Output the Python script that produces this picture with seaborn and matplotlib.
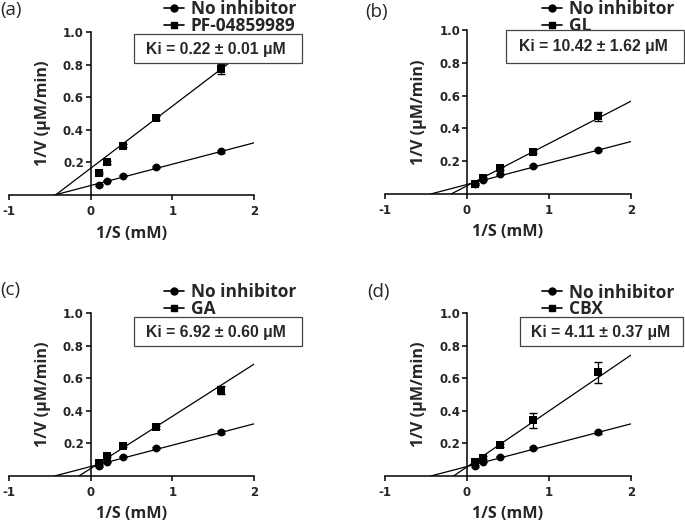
import numpy as np
import matplotlib
matplotlib.use('Agg')
import matplotlib.pyplot as plt
from matplotlib.lines import Line2D
from matplotlib.patches import Rectangle
from matplotlib.font_manager import FontProperties
import seaborn as sns

# =============================================================
# DATA
# =============================================================
inv_s = [0.1, 0.2, 0.4, 0.8, 1.6]          # 1/S (mM)

ctrl = [0.061, 0.088, 0.119, 0.170, 0.268]
ctrl_err = [0.004, 0.004, 0.005, 0.006, 0.008]

pf = [0.133, 0.200, 0.303, 0.470, 0.771]
pf_err = [0.006, 0.008, 0.010, 0.012, 0.030]
gl = [0.061, 0.098, 0.156, 0.258, 0.473]
gl_err = [0.005, 0.008, 0.010, 0.010, 0.030]
ga = [0.081, 0.122, 0.187, 0.299, 0.528]
ga_err = [0.005, 0.008, 0.008, 0.010, 0.022]
cbx = [0.083, 0.112, 0.189, 0.341, 0.635]
cbx_err = [0.006, 0.008, 0.010, 0.045, 0.065]

# fitted lines: (intercept, slope)
ctrl_fit = (0.058, 0.131)
pf_fit = (0.164, 0.381)
gl_fit = (0.050, 0.258)
ga_fit = (0.046, 0.320)
cbx_fit = (0.056, 0.343)

panel_tags = ['(a)', '(b)', '(c)', '(d)']
inhibitors = ['PF-04859989', 'GL', 'GA', 'CBX']
ki_texts = ['Ki = 0.22 \u00b1 0.01 \u03bcM', 'Ki = 10.42 \u00b1 1.62 \u03bcM',
            'Ki = 6.92 \u00b1 0.60 \u03bcM', 'Ki = 4.11 \u00b1 0.37 \u03bcM']
inh_vals = [pf, gl, ga, cbx]
inh_errs = [pf_err, gl_err, ga_err, cbx_err]
inh_fits = [pf_fit, gl_fit, ga_fit, cbx_fit]

# =============================================================
# LAYOUT (pixel positions in the 685x523 figure)
# =============================================================
W, H = 685, 523
ax_px = [(9, 254, 32, 195), (385, 631, 30, 194), (9, 254, 313, 476), (385, 631, 313, 476)]
tag_px = [(0, 10), (365, 12), (0, 290), (367, 292)]
leg_px = [(164, 0), (542, 0.5), (164, 283), (542, 283.5)]
ki_box_px = [(134, 34, 302, 63), (506, 30, 684, 63), (134, 317, 302, 346), (520, 317, 683, 346)]
ki_txt_px = [(216, 49), (593, 47), (216, 332), (601, 332)]
xlab_base = 42.5   # px from x axis down to label baseline

sns.set_theme(style='ticks')
plt.rcParams['font.family'] = ['Open Sans', 'DejaVu Sans']

fig = plt.figure(figsize=(W / 100, H / 100), dpi=100)

tick_fp = FontProperties(family='DejaVu Sans', weight='bold', size=8.5)
lab_font = dict(family='Open Sans', weight='bold', size=11.6)


def fit_line(ax, fit):
    b, m = fit
    xs = np.array([-b / m, 2.0])
    ax.plot(xs, b + m * xs, color='black', lw=0.9, zorder=2)


for i in range(4):
    l, r, t, b = ax_px[i]
    ax = fig.add_axes([l / W, 1 - b / H, (r - l) / W, (b - t) / H])

    # control series
    fit_line(ax, ctrl_fit)
    ax.errorbar(inv_s, ctrl, yerr=ctrl_err, fmt='none', ecolor='black',
                elinewidth=0.9, capsize=3, zorder=3)
    sns.scatterplot(x=inv_s, y=ctrl, ax=ax, marker='o', s=32, color='black',
                    edgecolor='black', linewidth=0, zorder=4)

    # inhibitor series
    fit_line(ax, inh_fits[i])
    ax.errorbar(inv_s, inh_vals[i], yerr=inh_errs[i], fmt='none', ecolor='black',
                elinewidth=0.9, capsize=3, zorder=3)
    sns.scatterplot(x=inv_s, y=inh_vals[i], ax=ax, marker='s', s=30, color='black',
                    edgecolor='black', linewidth=0, zorder=4)

    ax.set_xlim(-1, 2)
    ax.set_ylim(0, 1.0)
    ax.spines['left'].set_position(('data', 0))
    ax.spines['left'].set_bounds(0, 1.0)
    ax.spines['right'].set_visible(False)
    ax.spines['top'].set_visible(False)
    for sp in ('left', 'bottom'):
        ax.spines[sp].set_linewidth(1.1)
        ax.spines[sp].set_color('black')
    ax.set_xticks([-1, 0, 1, 2])
    ax.set_xticklabels(['-1', '0', '1', '2'])
    ax.set_yticks([0.2, 0.4, 0.6, 0.8, 1.0])
    ax.set_yticklabels(['0.2', '0.4', '0.6', '0.8', '1.0'])
    ax.tick_params(axis='both', direction='out', length=3.8, width=1.1, color='black')
    ax.tick_params(axis='x', pad=3.5)
    ax.tick_params(axis='y', pad=1.0)
    for lab in ax.get_xticklabels() + ax.get_yticklabels():
        lab.set_fontproperties(tick_fp)
    ax.patch.set_alpha(0)

    ax.set_xlabel('1/S (mM)', **lab_font)
    ax.xaxis.set_label_coords(0.5, -xlab_base / (b - t))
    ax.xaxis.label.set_va('baseline')
    ax.set_ylabel('1/V (\u03bcM/min)', **lab_font)
    ax.yaxis.set_label_coords(0.14, 0.5)
    ax.yaxis.label.set_va('center')

    # legend
    handles = [Line2D([], [], color='black', lw=1.2, marker='o', ms=5),
               Line2D([], [], color='black', lw=1.2, marker='s', ms=4.6)]
    lx, ly = leg_px[i]
    ax.legend(handles, ['No inhibitor', inhibitors[i]], loc='upper left',
              bbox_to_anchor=(lx / W, 1 - ly / H), bbox_transform=fig.transFigure,
              frameon=False, borderpad=0, borderaxespad=0, handlelength=1.15,
              handletextpad=0.4, labelspacing=-0.08,
              prop=dict(family='Open Sans', weight='bold', size=12.5))

    # panel tag
    tx, ty = tag_px[i]
    fig.text(tx / W, 1 - ty / H, panel_tags[i], ha='left', va='center',
             fontsize=13.5, family='Open Sans')

    # Ki box
    x0, y0, x1, y1 = ki_box_px[i]
    fig.add_artist(Rectangle((x0 / W, 1 - y1 / H), (x1 - x0) / W, (y1 - y0) / H,
                             transform=fig.transFigure, facecolor='white',
                             edgecolor='#444444', lw=0.9, zorder=5))
    kx, ky = ki_txt_px[i]
    fig.text(kx / W, 1 - ky / H, ki_texts[i], ha='center', va='center',
             family='Liberation Sans', weight='bold', fontsize=11.3, zorder=6)

fig.savefig('out.png', dpi=100)
